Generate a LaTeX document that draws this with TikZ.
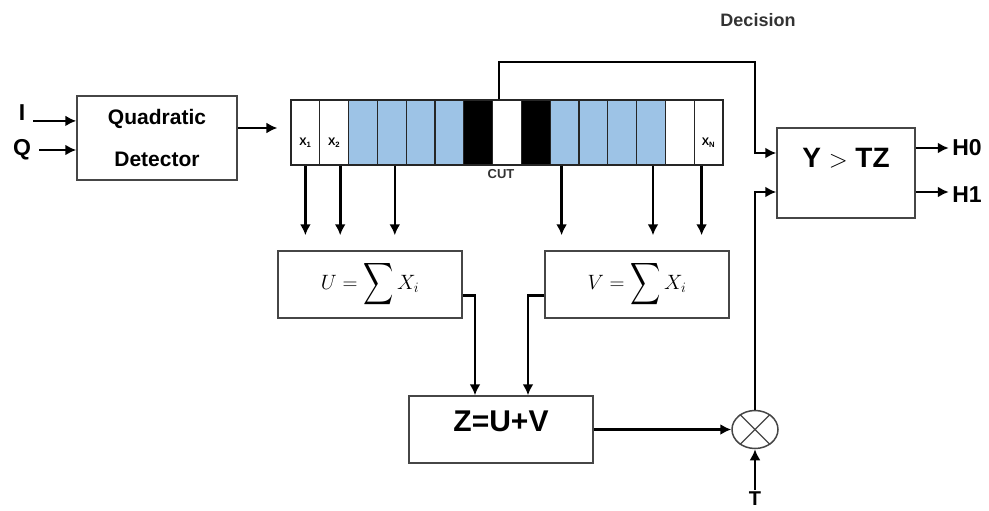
\documentclass[tikz,border=0pt]{standalone}
\usepackage{amsmath,amssymb}
\usepackage{graphicx}
\usepackage{fontspec}
\setmainfont{Liberation Sans}
\usepackage{xcolor}
\usepackage{tikz}
\usetikzlibrary{arrows.meta,shapes.geometric,calc,positioning}
\definecolor{cellblue}{RGB}{157,195,230}
\definecolor{boxgray}{RGB}{70,70,70}
\newcommand{\tallsum}{\mathop{\vcenter{\hbox{\scalebox{1}[1.4]{$\displaystyle\sum$}}}}}
\tikzset{
	blockbox/.style={draw=boxgray, line width=1.5pt, fill=white, inner sep=0pt},
	cellbox/.style={draw=black!85, line width=1.2pt, minimum width=28.8pt, minimum height=65pt, inner sep=0pt},
	arr/.style={-{Latex[length=11pt,width=11pt]}, line width=2.6pt},
	inlbl/.style={font=\bfseries\fontsize{23}{26}\selectfont, inner xsep=8pt},
	cellfont/.style={font=\bfseries\fontsize{11}{13}\selectfont, inner sep=1pt},
	hfont/.style={font=\bfseries\fontsize{23}{26}\selectfont},
}

\begin{document}
\begin{tikzpicture}[x=1pt,y=-1pt]
		\useasboundingbox (0,0) rectangle (989,511);
		
		\node[blockbox, minimum width=160pt, minimum height=84pt, align=center, font=\bfseries\fontsize{21}{42}\selectfont] (qd) at (157,138) {Quadratic\\Detector};
		\node[inlbl] (I) at (22,113) {I};
		\node[inlbl] (Q) at (22,150) {Q};
		\draw[arr] (I.base east) -- (I.base east -| qd.west);
		\draw[arr] (Q.east) -- (Q.east -| qd.west);
		
		\foreach \i/\col in {1/white,2/white,3/cellblue,4/cellblue,5/cellblue,6/cellblue,7/black,8/white,9/black,10/cellblue,11/cellblue,12/cellblue,13/cellblue,14/white,15/white}
			\node[cellbox, fill=\col] (c\i) at ({291+(\i-0.5)*28.8},132.5) {};
		\node[cellfont] (x1) at ([yshift=-10pt]c1.center) {X\textsubscript{1}};
		\node[cellfont] (x2) at ([yshift=-10pt]c2.center) {X\textsubscript{2}};
		\node[cellfont] (xn) at ([yshift=-10pt]c15.center) {X\textsubscript{N}};
		\node[font=\bfseries\fontsize{13}{15}\selectfont, text=black!80, inner sep=1pt] (cut) at ([xshift=-6pt,yshift=-8pt]c8.south) {CUT};
		\draw[arr, shorten >=13pt] ([yshift=10pt]qd.east) -- ([yshift=10pt]qd.east -| c1.west);
		
		\node[blockbox, minimum width=184pt, minimum height=67pt] (U) at (370,284.5) {\fontsize{21}{24}\selectfont$U=\tallsum X_i$};
		\node[blockbox, minimum width=184pt, minimum height=67pt] (V) at (637,284.5) {\fontsize{21}{24}\selectfont$V=\tallsum X_i$};
		\foreach \c/\dx in {1/0,2/6,4/3}
			\draw[arr, shorten >=15pt] ([xshift=\dx pt]c\c.south) -- ([xshift=\dx pt]c\c.south |- U.north);
		\foreach \c/\dx in {10/-3,13/2,15/-7}
			\draw[arr, shorten >=15pt] ([xshift=\dx pt]c\c.south) -- ([xshift=\dx pt]c\c.south |- V.north);
		
		\node[blockbox, minimum width=184pt, minimum height=67pt] (Z) at (501,429.5) {};
		\node[font=\bfseries\fontsize{30}{34}\selectfont] (zlbl) at ([yshift=8pt]Z.center) {Z=U+V};
		\draw[arr] ([yshift=-11pt]U.east) -| ([xshift=-26pt]Z.north);
		\draw[arr] ([yshift=-11pt]V.west) -| ([xshift=27pt]Z.north);
		
		\node[draw=boxgray, line width=1.5pt, ellipse, minimum width=46pt, minimum height=38pt, inner sep=0pt] (mul) at (755,429.5) {};
		\draw[draw=boxgray, line width=1.2pt] (mul.45) -- (mul.225) (mul.135) -- (mul.315);
		\node[font=\bfseries\fontsize{20}{23}\selectfont, inner sep=2pt] (T) at (755,499) {T};
		\draw[arr] (T.north) -- (mul.south);
		\draw[arr] (Z.east) -- (mul.west);
		
		\node[blockbox, minimum width=138pt, minimum height=90pt] (yz) at (846,173) {};
		\node[font=\bfseries\fontsize{28}{32}\selectfont] (yzlbl) at ([yshift=15pt]yz.center) {Y $>$ TZ};
		\coordinate (bend) at (755,62);
		\draw[arr] ([xshift=-8pt]c8.north) |- (bend) |- ([yshift=20pt]yz.west);
		\draw[arr] (mul.north) |- ([yshift=-19pt]yz.west);
		
		\node[hfont] (H0) at (967,148) {H0};
		\node[hfont] (H1) at (967,195) {H1};
		\draw[arr] ([yshift=25pt]yz.east) -- ([yshift=25pt]yz.east -| H0.west);
		\draw[arr] ([yshift=-19pt]yz.east) -- ([yshift=-19pt]yz.east -| H1.west);
		
		\node[font=\bfseries\fontsize{18}{21}\selectfont, text=black!80] (dec) at (758,20) {Decision};
	\end{tikzpicture}
\end{document}
